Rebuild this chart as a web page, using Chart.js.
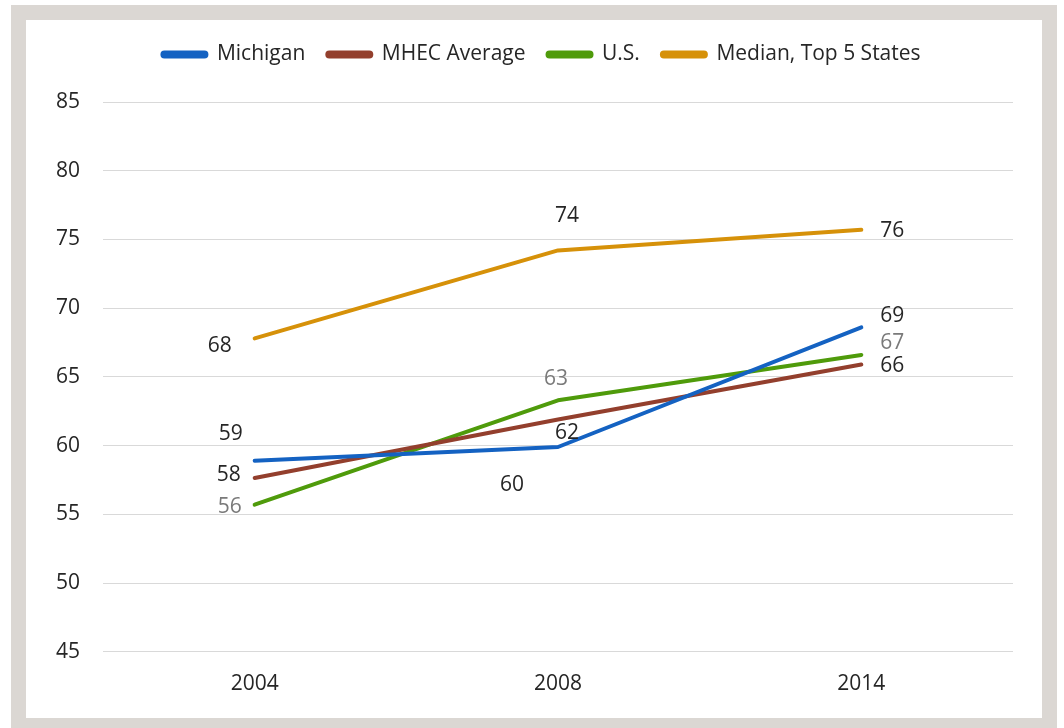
<!DOCTYPE html>
<html lang="en">
  <head>
    <meta charset="UTF-8" />
    <title>Michigan vs MHEC, U.S. and Top 5 States</title>
    <script src="https://cdn.jsdelivr.net/npm/chart.js"></script>
    <style>
      body {
        margin: 0;
        background-color: #ffffff;
        overflow: hidden;
      }

      #frame {
        position: absolute;
        left: 11px;
        top: 5px;
        width: 1016px;
        height: 698px;
        border: 15px solid #dbd7d3;
        background-color: #ffffff;
      }

      #chart {
        display: block;
      }
    </style>
  </head>
  <body>
    <div id="frame">
      <canvas id="chart" width="1016" height="698"></canvas>
    </div>

    <script>
      // Data
      const years = ["2004", "2008", "2014"];
      const michigan = [58.9, 59.9, 68.6];
      const mhecAverage = [57.65, 61.9, 65.9];
      const us = [55.7, 63.3, 66.6];
      const medianTop5 = [67.8, 74.2, 75.7];

      const yMin = 45;
      const yMax = 85;
      const yStep = 5;

      // Where each value label sits relative to its point (pixels)
      const labelOffsets = [
        [[-24, -27], [-46, 38], [31, -11]],
        [[-26, -3], [9, 14], [31, 1]],
        [[-25, 2], [-2, -21], [31, -12]],
        [[-35, 8], [9, -34], [31, 1]],
      ];
      const labelColors = ["#262626", "#262626", "#7a7a7a", "#262626"];

      const fontFamily = "'Open Sans', sans-serif";
      const fontSize = 21;

      // Draws the rounded value next to every point
      const valueLabels = {
        id: "valueLabels",
        afterDatasetsDraw(chart) {
          const ctx = chart.ctx;
          ctx.save();
          ctx.font = fontSize + "px " + fontFamily;
          ctx.textAlign = "center";
          ctx.textBaseline = "middle";
          chart.data.datasets.forEach((ds, i) => {
            const meta = chart.getDatasetMeta(i);
            meta.data.forEach((pt, j) => {
              const off = labelOffsets[i][j];
              ctx.fillStyle = labelColors[i];
              ctx.fillText(String(Math.round(ds.data[j])), pt.x + off[0], pt.y + off[1]);
            });
          });
          ctx.restore();
        },
      };

      // More room under the legend, and legend nudged right like the original
      const legendTweak = {
        id: "legendTweak",
        beforeInit(chart) {
          const legend = chart.legend;
          const fit = legend.fit;
          legend.fit = function () {
            fit.call(this);
            this.height += 27;
          };
          const draw = legend.draw;
          legend.draw = function (area) {
            chart.ctx.save();
            chart.ctx.translate(22, 0);
            draw.call(this, area);
            chart.ctx.restore();
          };
        },
      };

      function series(label, data, color) {
        return {
          label: label,
          data: data,
          borderColor: color,
          backgroundColor: color,
          borderWidth: 4,
          borderCapStyle: "round",
          borderJoinStyle: "round",
          pointRadius: 0,
          pointHoverRadius: 0,
          tension: 0,
          fill: false,
        };
      }

      new Chart(document.getElementById("chart").getContext("2d"), {
        type: "line",
        data: {
          labels: years,
          datasets: [
            series("Michigan", michigan, "#1462c2"),
            series("MHEC Average", mhecAverage, "#933f2d"),
            series("U.S.", us, "#4f9b0b"),
            series("Median, Top 5 States", medianTop5, "#d69109"),
          ],
        },
        options: {
          responsive: false,
          animation: false,
          layout: {
            padding: { top: 2, right: 29, bottom: 1, left: 0 },
          },
          plugins: {
            tooltip: { enabled: false },
            legend: {
              position: "top",
              labels: {
                boxWidth: 44,
                boxHeight: 4,
                padding: 22,
                color: "#262626",
                useBorderRadius: true,
                borderRadius: 2,
                font: { family: fontFamily, size: fontSize },
              },
            },
          },
          scales: {
            x: {
              offset: true,
              grid: { display: false, drawTicks: false },
              border: { display: false },
              ticks: {
                padding: 20,
                color: "#262626",
                font: { family: fontFamily, size: fontSize },
              },
            },
            y: {
              min: yMin,
              max: yMax,
              afterFit(scale) {
                scale.width = 77;
              },
              grid: { color: "#d9d9d9", lineWidth: 1, drawTicks: false },
              border: { display: false },
              ticks: {
                stepSize: yStep,
                padding: 23,
                color: "#262626",
                font: { family: fontFamily, size: fontSize },
              },
            },
          },
        },
        plugins: [valueLabels, legendTweak],
      });
    </script>
  </body>
</html>
